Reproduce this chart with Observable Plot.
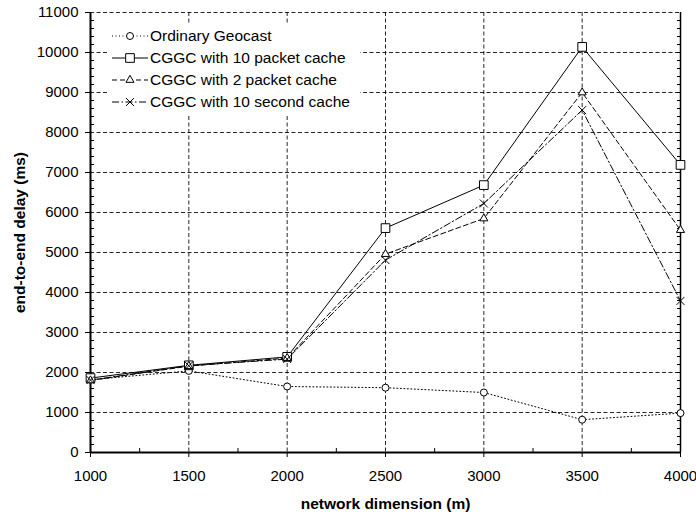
<!DOCTYPE html>
<html><head><meta charset="utf-8">
<script src="https://cdn.jsdelivr.net/npm/d3@7"></script>
<script src="https://cdn.jsdelivr.net/npm/@observablehq/plot@0.6"></script>
<style>
html,body{margin:0;padding:0;background:#fff;}
#wrap{position:relative;width:696px;height:512px;}
#legend{position:absolute;left:108px;top:24px;width:252px;height:91px;background:#fff;}
#legend text{font-family:"Liberation Sans",Arial,sans-serif;font-size:15.5px;fill:#000;}
g[aria-label="y-axis label"] text, g[aria-label="x-axis label"] text{font-weight:bold;font-size:15.5px;}
</style></head><body><div id="wrap"><div id="legend"></div></div>
<script>
const dimensions = [1000, 1500, 2000, 2500, 3000, 3500, 4000];
const seriesNames = ["Ordinary Geocast", "CGGC with 10 packet cache", "CGGC with 2 packet cache", "CGGC with 10 second cache"];
const ordinaryGeocast = [1820, 2040, 1650, 1620, 1500, 820, 985];
const cggc10Packet = [1860, 2180, 2390, 5610, 6685, 10140, 7190];
const cggc2Packet = [1800, 2160, 2360, 4960, 5850, 9000, 5560];
const cggc10Second = [1810, 2170, 2335, 4810, 6225, 8560, 3790];
const yTicks = [0, 1000, 2000, 3000, 4000, 5000, 6000, 7000, 8000, 9000, 10000, 11000];
const xTicks = [1000, 1500, 2000, 2500, 3000, 3500, 4000];
const xLabel = "network dimension (m)";
const yLabel = "end-to-end delay (ms)";

const seriesValues = [ordinaryGeocast, cggc10Packet, cggc2Packet, cggc10Second];
const symbolNames = ["circle", "square", "triangle", "times"];
const symbolTypes = [d3.symbolCircle, d3.symbolSquare, d3.symbolTriangle, d3.symbolTimes];
const dashes = ["1,2.5", null, "5,3", "7,2.5,1.5,2.5"];
const radii = [3.5, 4.9, 3, 3.7];

const rows = seriesNames.flatMap((name, i) => dimensions.map((x, j) => ({series: name, x, y: seriesValues[i][j]})));
const yMinor = d3.range(200, 11000, 200).filter(d => d % 1000 !== 0);
const yAll = d3.range(200, 11000, 200);
const xMinor = d3.range(1250, 4000, 500);

const marks = [
  Plot.ruleY(yTicks.filter(d => d > 0), {stroke: "#000", strokeWidth: 1, strokeDasharray: "4,2.5", strokeOpacity: 0.85}),
  Plot.ruleX(xTicks.slice(1, -1), {stroke: "#000", strokeWidth: 1, strokeDasharray: "4,2.5", strokeOpacity: 0.85}),
  Plot.ruleX([xTicks[0]], {stroke: "#000", strokeWidth: 2}),
  Plot.ruleX([xTicks[xTicks.length - 1]], {stroke: "#000", strokeWidth: 1.5}),
  Plot.ruleY([yTicks[0]], {stroke: "#000", strokeWidth: 2}),
  Plot.axisY(yTicks, {tickSize: 5, tickPadding: 7, tickFormat: d => String(d), label: yLabel, labelAnchor: "center", labelOffset: 77, labelArrow: "none"}),
  Plot.axisY(yMinor, {tickSize: -4, tickFormat: () => "", label: null}),
  Plot.axisY(yAll, {anchor: "right", tickSize: -4, tickFormat: () => "", label: null}),
  Plot.axisX(xTicks, {tickSize: 5, tickPadding: 12.5, tickFormat: d => String(d), label: xLabel, labelAnchor: "center", labelOffset: 56, labelArrow: "none"}),
  Plot.axisX(xMinor, {tickSize: -4, tickFormat: () => "", label: null})
];
seriesNames.forEach((name, i) => {
  marks.push(Plot.line(rows, {filter: d => d.series === name, x: "x", y: "y", stroke: "#000", strokeWidth: 1, strokeDasharray: dashes[i]}));
});
seriesNames.forEach((name, i) => {
  marks.push(Plot.dot(rows, {filter: d => d.series === name, x: "x", y: "y", symbol: symbolNames[i], r: radii[i], fill: "#fff", stroke: "#000", strokeWidth: 1}));
});

const chart = Plot.plot({
  width: 696, height: 512,
  marginLeft: 90, marginRight: 16, marginTop: 12, marginBottom: 60,
  style: {fontFamily: "'Liberation Sans', Arial, sans-serif", fontSize: "15px", color: "#000", background: "#fff"},
  x: {type: "linear", domain: [1000, 4000]},
  y: {type: "linear", domain: [0, 11000]},
  marks
});
const wrap = document.getElementById("wrap");
wrap.insertBefore(chart, wrap.firstChild);

const leg = d3.select("#legend").append("svg").attr("width", 252).attr("height", 91);
seriesNames.forEach((name, i) => {
  const g = leg.append("g").attr("transform", `translate(0,${12 + 22 * i})`);
  g.append("line").attr("x1", 4).attr("x2", 40).attr("y1", 0).attr("y2", 0)
    .attr("stroke", "#000").attr("stroke-width", 1).attr("stroke-dasharray", dashes[i]);
  g.append("path").attr("d", d3.symbol(symbolTypes[i], Math.PI * radii[i] * radii[i])())
    .attr("transform", "translate(22,0)").attr("fill", "#fff").attr("stroke", "#000").attr("stroke-width", 1);
  g.append("text").attr("x", 42).attr("dy", "0.35em").text(name);
});
</script>
</body></html>
